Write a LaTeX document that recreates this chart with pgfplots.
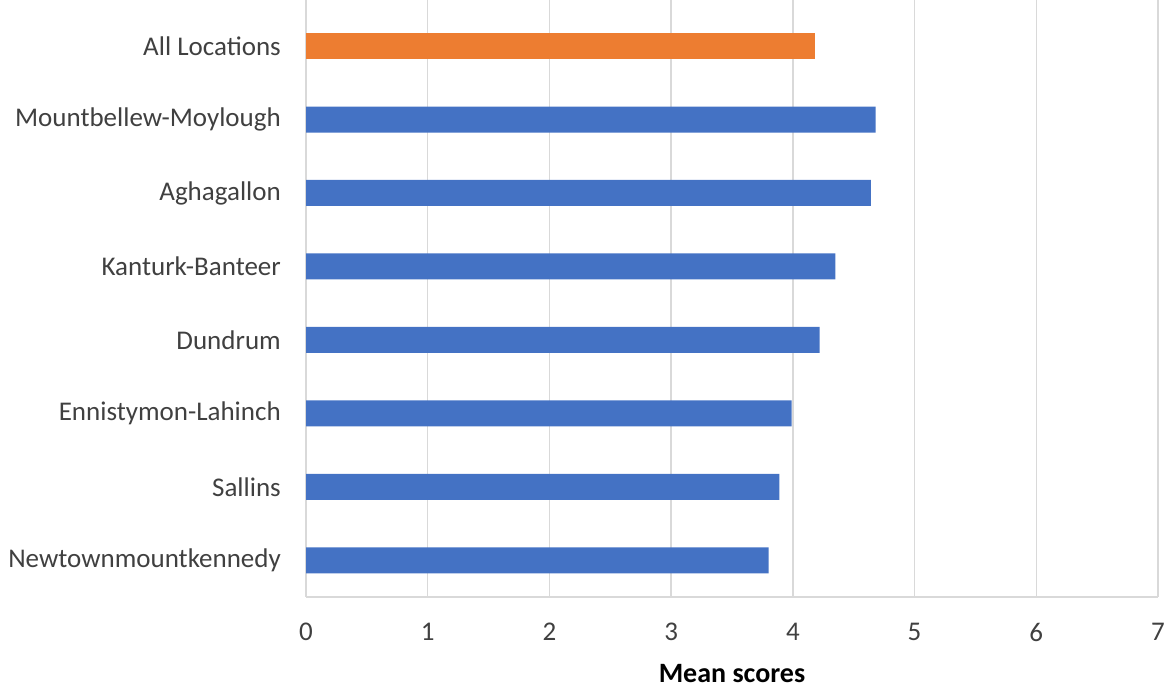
\documentclass[border=0pt]{standalone}
\usepackage{pgfplots}
\pgfplotsset{compat=1.18}
\usepackage{fontspec}
\setmainfont{Carlito}
\definecolor{barblue}{RGB}{68,114,196}
\definecolor{barorange}{RGB}{237,125,49}
\definecolor{gridgray}{RGB}{217,217,217}
\definecolor{txtgray}{RGB}{64,64,64}
\begin{document}
\begin{tikzpicture}
\useasboundingbox (0,0) rectangle (1169pt,690pt);
\begin{axis}[
  at={(306pt,93pt)}, anchor=south west,
  scale only axis,
  width=852pt, height=597pt,
  xbar, bar width=26pt,
  xmin=0, xmax=7,
  ymin=-0.5, ymax=7.627,
  xtick={0,1,...,7},
  ytick={0,...,7},
  yticklabels={Newtownmountkennedy,Sallins,Ennistymon-Lahinch,Dundrum,Kanturk-Banteer,Aghagallon,Mountbellew-Moylough,All Locations},
  /pgf/number format/assume math mode=true,
  xmajorgrids,
  major grid style={gridgray, line width=1.5pt},
  major tick length=0pt,
  axis x line*=bottom,
  axis y line*=left,
  x axis line style={gridgray, line width=1.5pt, -},
  y axis line style={draw=none},
  every tick label/.append style={font=\fontsize{27}{30}\selectfont, text=txtgray},
  xticklabel style={anchor=center, yshift=-35pt},
  yticklabel style={anchor=east, inner sep=0pt, xshift=-25pt},
  xlabel={\textbf{Mean scores}},
  xlabel style={font=\fontsize{28}{32}\selectfont, text=black, at={(axis description cs:0.5,0)}, anchor=center, yshift=-77pt},
  clip=false,
]
\addplot[draw=none, fill=barblue, bar shift=0pt] coordinates {
  (3.80,0) (3.89,1) (3.99,2) (4.22,3) (4.35,4) (4.64,5) (4.68,6)
};
\addplot[draw=none, fill=barorange, bar shift=0pt] coordinates {
  (4.18,7)
};
\end{axis}
\end{tikzpicture}
\end{document}
